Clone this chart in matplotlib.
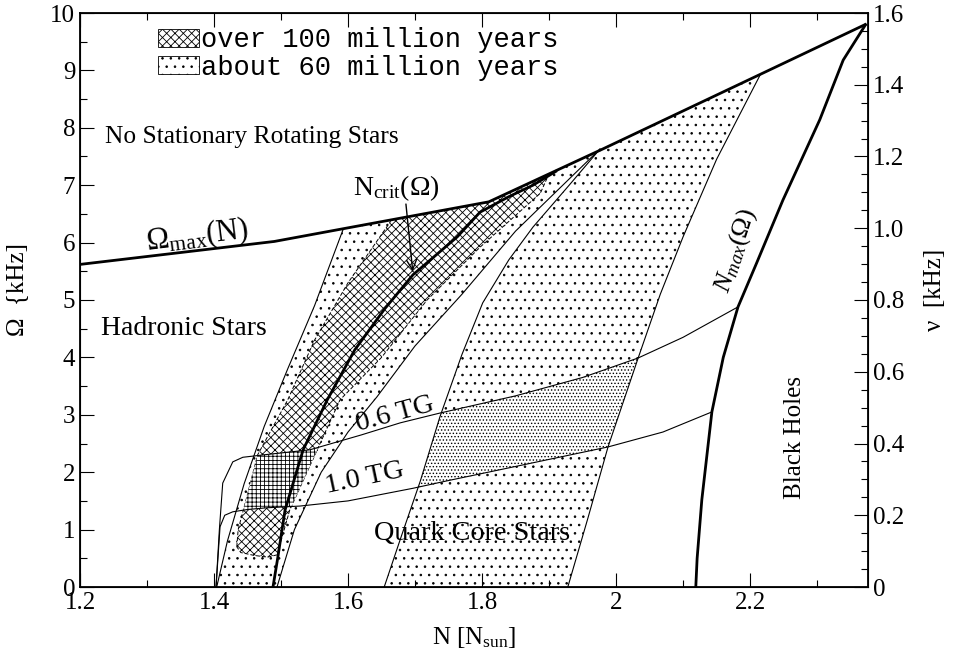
import numpy as np
import matplotlib.pyplot as plt
from matplotlib.patches import Polygon, Patch
from matplotlib.ticker import MultipleLocator, FuncFormatter

plt.rcParams['font.family'] = 'Liberation Serif'
plt.rcParams['mathtext.fontset'] = 'custom'
plt.rcParams['mathtext.rm'] = 'Liberation Serif'
plt.rcParams['mathtext.it'] = 'Liberation Serif:italic'
plt.rcParams['hatch.linewidth'] = 0.6

# Omega_max(N) boundary
omax_n = [1.2, 1.49, 1.81, 1.98, 2.215, 2.372]
omax_w = [5.62, 6.02, 6.71, 7.63, 8.93, 9.8]

# N_crit(Omega)
ncrit_n = [1.488, 1.495, 1.506, 1.533, 1.569, 1.610, 1.655, 1.697, 1.763, 1.797, 1.84, 1.876, 1.91]
ncrit_w = [0.0, 0.5, 1.34, 2.39, 3.26, 4.13, 4.85, 5.44, 6.10, 6.53, 6.80, 7.0, 7.24]

# N_max(Omega)
nmax_n = [2.119, 2.121, 2.128, 2.143, 2.160, 2.182, 2.21, 2.249, 2.304, 2.339, 2.372]
nmax_w = [0.0, 0.5, 1.52, 3.05, 4.0, 4.88, 5.65, 6.74, 8.14, 9.18, 9.79]

# magnetic field curves
tg06_n = [1.403, 1.408, 1.413, 1.428, 1.443, 1.48, 1.543, 1.62, 1.678, 1.737, 1.85, 1.95, 2.033, 2.10, 2.182]
tg06_w = [0.0, 1.0, 1.81, 2.18, 2.26, 2.31, 2.39, 2.65, 2.86, 3.03, 3.33, 3.65, 3.99, 4.35, 4.88]
tg10_n = [1.403, 1.409, 1.416, 1.428, 1.45, 1.479, 1.528, 1.60, 1.697, 1.752, 1.85, 1.988, 2.07, 2.143]
tg10_w = [0.0, 1.05, 1.25, 1.31, 1.35, 1.38, 1.41, 1.50, 1.72, 1.86, 2.10, 2.44, 2.70, 3.05]

# hadronic band (about 60 million years)
b1_left_n = [1.404, 1.42, 1.445, 1.475, 1.51, 1.55, 1.593]
b1_left_w = [0.0, 0.8, 1.8, 2.8, 3.8, 4.9, 6.24]
b1_right_n = [1.494, 1.52, 1.56, 1.60, 1.643, 1.70, 1.77, 1.85, 1.976]
b1_right_w = [0.0, 1.0, 2.0, 2.7, 3.31, 4.2, 5.1, 6.2, 7.63]

# quark core band (about 60 million years)
b2_left_n = [1.654, 1.68, 1.708, 1.737, 1.77, 1.801, 1.84, 1.876, 1.93, 1.976]
b2_left_w = [0.0, 0.9, 1.85, 2.96, 4.05, 4.95, 5.7, 6.27, 7.0, 7.63]
b2_right_n = [1.928, 1.958, 1.988, 2.033, 2.066, 2.10, 2.15, 2.215]
b2_right_w = [0.0, 1.2, 2.44, 3.99, 5.1, 6.1, 7.45, 8.92]

# over 100 million years region
h_left_n = [1.434, 1.436, 1.449, 1.465, 1.51, 1.55, 1.60, 1.663]
h_left_w = [0.70, 1.0, 1.57, 2.3, 3.26, 4.3, 5.3, 6.36]
h_right_n = [1.90, 1.887, 1.797, 1.718, 1.65, 1.588, 1.554, 1.513, 1.494, 1.48, 1.46, 1.44]
h_right_w = [7.2, 6.86, 5.92, 5.0, 4.0, 3.26, 2.39, 1.34, 0.56, 0.52, 0.55, 0.6]


def region(left_n, left_w, right_n, right_w):
    top_n = np.linspace(left_n[-1], right_n[0], 40)
    top_w = np.interp(top_n, omax_n, omax_w)
    xs = np.concatenate([left_n, top_n, right_n])
    ys = np.concatenate([left_w, top_w, right_w])
    return np.column_stack([xs, ys])


fig = plt.figure(figsize=(9.54, 6.62), dpi=100)
ax = fig.add_axes([80 / 954, 75 / 662, 788 / 954, 574 / 662])

band1 = Polygon(region(b1_left_n, b1_left_w, b1_right_n[::-1], b1_right_w[::-1]),
                facecolor='white', edgecolor='k', linewidth=0, hatch='..', zorder=1)
band2 = Polygon(region(b2_left_n, b2_left_w, b2_right_n[::-1], b2_right_w[::-1]),
                facecolor='white', edgecolor='k', linewidth=0, hatch='..', zorder=1)
ax.add_patch(band1)
ax.add_patch(band2)

cross = Polygon(region(h_left_n, h_left_w, h_right_n, h_right_w),
                facecolor='white', edgecolor='k', linewidth=0.7, linestyle=(0, (4, 2)),
                hatch='xxxx', zorder=2)
ax.add_patch(cross)

grid_n = np.linspace(1.403, 2.182, 500)
lo = np.interp(grid_n, tg10_n, tg10_w, right=np.nan)
hi = np.interp(grid_n, tg06_n, tg06_w)
ok = grid_n <= tg10_n[-1]
dense = ax.fill_between(grid_n[ok], lo[ok], hi[ok], facecolor='white', edgecolor='k',
                        linewidth=0, hatch='.....', zorder=1.5)
dense.set_clip_path(band2)
sq = ax.fill_between(grid_n[ok], lo[ok], hi[ok], facecolor='white', edgecolor='k',
                     linewidth=0, hatch='++++', zorder=2.5)
sq.set_clip_path(cross)

thin = dict(color='k', lw=0.8, zorder=3)
for n, w in [(b1_left_n, b1_left_w), (b1_right_n, b1_right_w),
             (b2_left_n, b2_left_w), (b2_right_n, b2_right_w),
             (tg06_n, tg06_w), (tg10_n, tg10_w)]:
    ax.plot(n, w, **thin)

thick = dict(color='k', lw=2.0, zorder=4)
ax.plot(omax_n, omax_w, **thick)
ax.plot(ncrit_n, ncrit_w, **thick)
ax.plot(nmax_n, nmax_w, **thick)

ax.text(1.237, 7.84, 'No Stationary Rotating Stars', fontsize=18.4, va='center')
ax.text(1.375, 6.12, r'$\Omega_{\rm max}$(N)', fontsize=22, ha='center', va='center', rotation=7)
ax.text(1.672, 6.95, r'N$_{\rm crit}$($\Omega$)', fontsize=20, ha='center', va='center')
ax.annotate('', xy=(1.697, 5.45), xytext=(1.686, 6.72),
            arrowprops=dict(arrowstyle='->', lw=1.0, color='k', mutation_scale=18))
ax.text(1.355, 4.51, 'Hadronic Stars', fontsize=20, ha='center', va='center')
ax.text(1.670, 3.0, '0.6 TG', fontsize=20.5, ha='center', va='center', rotation=15)
ax.text(1.625, 1.9, '1.0 TG', fontsize=20.5, ha='center', va='center', rotation=12)
ax.text(1.785, 0.94, 'Quark Core Stars', fontsize=20.3, ha='center', va='center')
ax.text(2.178, 5.87, r'$N_{max}$($\Omega$)', fontsize=19, ha='center', va='center', rotation=72)
ax.text(2.267, 2.61, 'Black Holes', fontsize=18, ha='center', va='center', rotation=90)

fs = 18
ax.set_xlim(1.2, 2.376)
ax.set_ylim(0, 10)
ax.xaxis.set_major_locator(MultipleLocator(0.2))
ax.xaxis.set_minor_locator(MultipleLocator(0.1))
ax.xaxis.set_major_formatter(FuncFormatter(lambda v, p: '%g' % round(v, 3)))
ax.yaxis.set_major_locator(MultipleLocator(1))
ax.yaxis.set_minor_locator(MultipleLocator(0.5))
ax.tick_params(which='both', direction='in', top=True, labelsize=fs, width=0.8)
ax.tick_params(which='major', length=10)
ax.tick_params(which='minor', length=5)
for s in ax.spines.values():
    s.set_linewidth(1.3)

ax2 = ax.twinx()
ax2.set_ylim(0, 1.6)
ax2.yaxis.set_major_locator(MultipleLocator(0.2))
ax2.yaxis.set_minor_locator(MultipleLocator(0.05))
ax2.yaxis.set_major_formatter(FuncFormatter(lambda v, p: '0' if abs(v) < 1e-9 else '%.1f' % v))
ax2.tick_params(which='both', direction='in', labelsize=fs, width=0.8)
ax2.tick_params(which='major', length=10)
ax2.tick_params(which='minor', length=5)

ax.set_xlabel(r'N [N$_{\rm sun}$]', fontsize=fs, labelpad=8)
fig.text(17 / 954, 1 - 290 / 662, 'Ω  {kHz]', fontsize=fs, rotation=90, ha='center', va='center')
fig.text(935 / 954, 1 - 290 / 662, 'ν  [kHz]', fontsize=fs, rotation=90, ha='center', va='center')

handles = [Patch(facecolor='white', edgecolor='k', hatch='xxxx', linewidth=0.6),
           Patch(facecolor='white', edgecolor='k', hatch='..', linewidth=0.6)]
ax.legend(handles, ['over 100 million years', 'about 60 million years'],
          loc='upper left', bbox_to_anchor=(0.099, 0.975), frameon=False,
          prop={'family': 'Liberation Mono', 'size': 19.5}, handlelength=1.5,
          handleheight=0.65, handletextpad=0.1, borderpad=0, borderaxespad=0,
          labelspacing=0.05)

fig.savefig('out.png', dpi=100)
